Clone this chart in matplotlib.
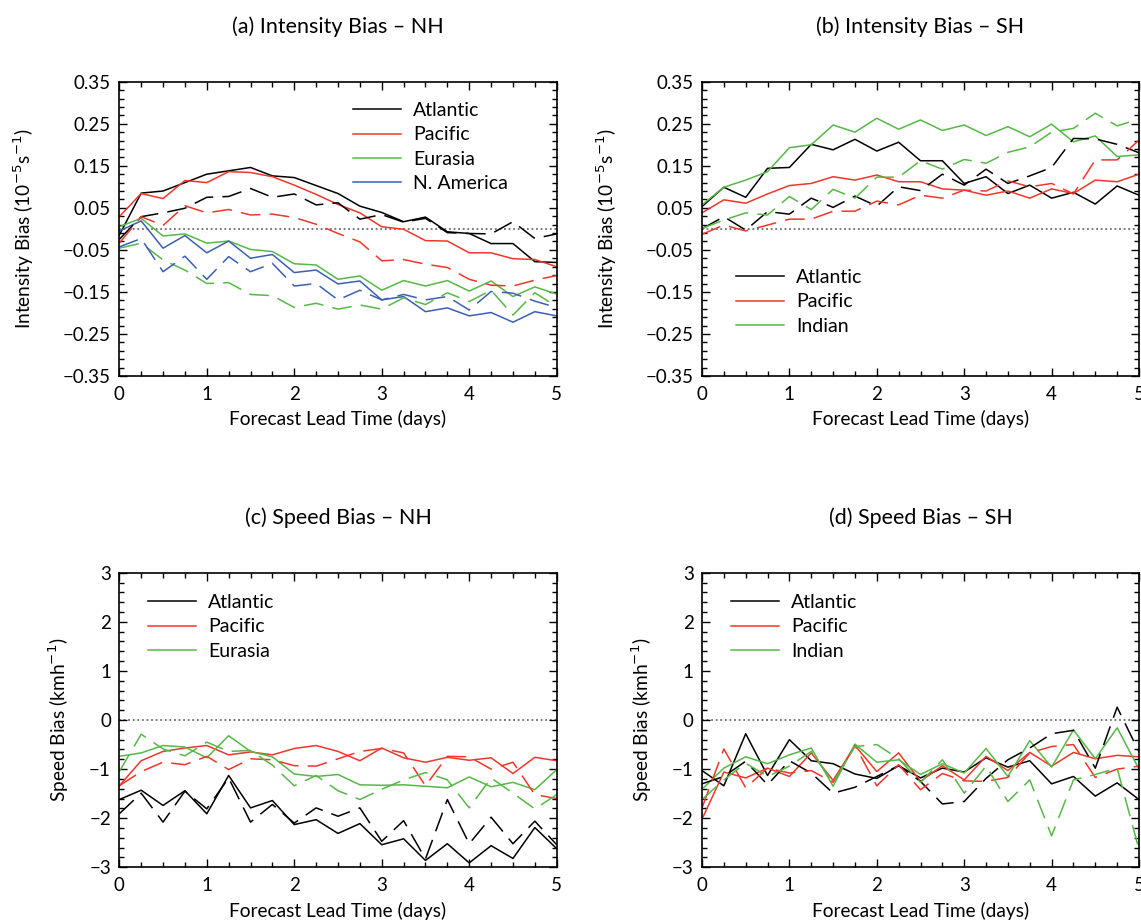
import numpy as np
import matplotlib
matplotlib.use("Agg")
import matplotlib.pyplot as plt
from matplotlib.ticker import FixedLocator, FuncFormatter

plt.rcParams['font.family'] = ['Lato', 'DejaVu Sans']
plt.rcParams['axes.unicode_minus'] = True

lead = [0, 0.25, 0.5, 0.75, 1, 1.25, 1.5, 1.75, 2, 2.25, 2.5, 2.75, 3, 3.25, 3.5, 3.75, 4, 4.25, 4.5, 4.75, 5]

# (a) Intensity bias NH  (solid / dashed)
a_atl = [-0.015, 0.085, 0.090, 0.110, 0.130, 0.138, 0.146, 0.126, 0.122, 0.103, 0.084, 0.054, 0.039, 0.017, 0.028, -0.007, -0.011, -0.035, -0.035, -0.078, -0.080]
a_atl_d = [-0.025, 0.029, 0.038, 0.049, 0.075, 0.077, 0.096, 0.075, 0.083, 0.057, 0.062, 0.023, 0.034, 0.016, 0.025, -0.009, -0.011, -0.012, 0.017, -0.023, -0.012]
a_pac = [0.029, 0.084, 0.072, 0.115, 0.110, 0.136, 0.134, 0.124, 0.104, 0.082, 0.058, 0.038, 0.005, -0.001, -0.028, -0.029, -0.057, -0.057, -0.071, -0.073, -0.090]
a_pac_d = [-0.034, 0.029, 0.008, 0.055, 0.038, 0.046, 0.033, 0.035, 0.027, 0.011, -0.011, -0.031, -0.076, -0.073, -0.084, -0.092, -0.120, -0.134, -0.136, -0.122, -0.111]
a_eur = [0.005, 0.025, -0.017, -0.012, -0.034, -0.029, -0.049, -0.054, -0.083, -0.086, -0.120, -0.112, -0.146, -0.123, -0.136, -0.123, -0.148, -0.124, -0.161, -0.138, -0.155]
a_eur_d = [-0.046, -0.034, -0.074, -0.098, -0.130, -0.128, -0.156, -0.159, -0.187, -0.177, -0.191, -0.181, -0.191, -0.164, -0.180, -0.152, -0.173, -0.146, -0.205, -0.152, -0.185]
a_nam = [-0.005, 0.019, -0.046, -0.016, -0.057, -0.029, -0.070, -0.061, -0.104, -0.098, -0.131, -0.124, -0.169, -0.161, -0.197, -0.188, -0.207, -0.199, -0.222, -0.197, -0.207]
a_nam_d = [-0.043, -0.023, -0.102, -0.065, -0.120, -0.066, -0.102, -0.082, -0.136, -0.130, -0.169, -0.146, -0.169, -0.156, -0.169, -0.161, -0.193, -0.149, -0.153, -0.172, -0.187]

# (b) Intensity bias SH
b_atl = [0.053, 0.099, 0.075, 0.144, 0.146, 0.201, 0.188, 0.213, 0.185, 0.206, 0.162, 0.162, 0.108, 0.124, 0.084, 0.104, 0.073, 0.087, 0.059, 0.102, 0.080]
b_atl_d = [0.000, 0.029, -0.003, 0.041, 0.035, 0.073, 0.051, 0.078, 0.054, 0.100, 0.091, 0.130, 0.104, 0.142, 0.108, 0.126, 0.146, 0.215, 0.214, 0.201, 0.181]
b_pac = [0.038, 0.069, 0.061, 0.083, 0.103, 0.108, 0.124, 0.116, 0.128, 0.112, 0.112, 0.095, 0.092, 0.080, 0.090, 0.073, 0.095, 0.084, 0.116, 0.112, 0.130]
b_pac_d = [-0.013, 0.009, -0.005, 0.009, 0.023, 0.023, 0.042, 0.042, 0.066, 0.057, 0.080, 0.073, 0.092, 0.090, 0.114, 0.100, 0.108, 0.083, 0.164, 0.164, 0.211]
b_ind = [0.057, 0.099, 0.116, 0.136, 0.193, 0.200, 0.247, 0.230, 0.263, 0.237, 0.259, 0.234, 0.247, 0.222, 0.243, 0.219, 0.249, 0.207, 0.221, 0.172, 0.176]
b_ind_d = [0.001, 0.021, 0.038, 0.033, 0.077, 0.046, 0.094, 0.073, 0.123, 0.123, 0.162, 0.142, 0.165, 0.156, 0.182, 0.195, 0.230, 0.239, 0.275, 0.245, 0.261]

# (c) Speed bias NH
c_atl = [-1.62, -1.43, -1.74, -1.44, -1.91, -1.13, -1.79, -1.64, -2.13, -2.03, -2.31, -2.11, -2.54, -2.42, -2.86, -2.52, -2.91, -2.56, -2.82, -2.19, -2.62]
c_atl_d = [-1.91, -1.49, -2.08, -1.45, -1.81, -1.18, -2.08, -1.72, -2.10, -1.79, -1.96, -1.79, -2.47, -2.05, -2.83, -1.62, -2.52, -1.98, -2.52, -2.06, -2.54]
c_pac = [-1.34, -0.83, -0.64, -0.57, -0.52, -0.71, -0.65, -0.71, -0.58, -0.52, -0.64, -0.83, -0.57, -0.77, -0.86, -0.76, -0.82, -0.77, -1.09, -0.76, -0.83]
c_pac_d = [-1.34, -1.05, -0.86, -0.91, -0.74, -1.01, -0.79, -0.81, -0.93, -0.94, -0.79, -0.64, -0.58, -0.67, -1.34, -0.74, -0.75, -1.00, -0.86, -1.52, -1.60]
c_eur = [-0.74, -0.67, -0.52, -0.55, -0.77, -0.32, -0.64, -0.75, -1.10, -1.15, -1.11, -1.32, -1.33, -1.32, -1.35, -1.38, -1.16, -1.36, -1.27, -1.42, -1.01]
c_eur_d = [-1.05, -0.29, -0.59, -0.73, -0.45, -0.64, -0.62, -0.92, -1.34, -1.13, -1.44, -1.62, -1.41, -1.22, -1.07, -1.22, -1.79, -1.18, -1.49, -1.81, -1.52]

# (d) Speed bias SH
d_atl = [-1.03, -1.34, -0.28, -1.13, -0.40, -0.83, -0.89, -1.10, -1.19, -0.93, -1.18, -0.98, -1.06, -0.77, -0.96, -0.83, -1.30, -1.15, -1.55, -1.28, -1.62]
d_atl_d = [-1.30, -1.15, -0.84, -1.32, -0.83, -1.08, -1.49, -1.37, -1.15, -0.93, -1.25, -1.71, -1.66, -1.19, -0.81, -0.57, -0.28, -0.21, -0.98, 0.26, -0.65]
d_pac = [-2.02, -1.06, -1.18, -0.98, -1.15, -0.67, -1.23, -0.52, -1.05, -0.67, -1.25, -0.93, -1.22, -0.74, -1.03, -0.66, -0.94, -0.66, -0.79, -0.72, -0.75]
d_pac_d = [-1.79, -0.59, -1.38, -0.98, -1.08, -1.03, -1.27, -0.52, -1.34, -0.91, -1.42, -1.09, -1.24, -1.25, -1.17, -0.67, -0.54, -0.50, -1.17, -1.00, -0.94]
d_ind = [-1.41, -0.98, -0.75, -0.89, -0.71, -0.57, -1.35, -0.49, -0.86, -0.81, -1.11, -0.89, -1.08, -0.58, -1.15, -0.42, -0.96, -0.20, -0.79, -0.16, -1.00]
d_ind_d = [-1.62, -1.22, -0.88, -1.15, -0.94, -0.64, -1.28, -0.54, -0.50, -0.79, -1.27, -0.81, -1.49, -0.94, -1.66, -1.22, -2.36, -1.22, -1.11, -0.98, -2.64]

titles = ["(a) Intensity Bias \u2013 NH", "(b) Intensity Bias \u2013 SH",
          "(c) Speed Bias \u2013 NH", "(d) Speed Bias \u2013 SH"]
int_label = "Intensity Bias (10$^{-5}$s$^{-1}$)"
spd_label = "Speed Bias (kmh$^{-1}$)"
x_label = "Forecast Lead Time (days)"

BLACK = "#000000"
RED = "#f2362a"
GREEN = "#56b847"
BLUE = "#3b5fb5"
DASH = (0, (13, 6))

fig = plt.figure(figsize=(11.41, 9.21), dpi=100)
W, H = 1141.0, 921.0

def make_ax(x0, x1, ytop, ybot):
    return fig.add_axes([x0 / W, 1 - ybot / H, (x1 - x0) / W, (ybot - ytop) / H])

axa = make_ax(119.3, 556.7, 81.7, 376.0)
axb = make_ax(702.0, 1139.0, 81.7, 376.0)
axc = make_ax(119.3, 556.7, 572.7, 867.3)
axd = make_ax(702.0, 1139.0, 572.7, 867.3)

TICK_FS = 13.5
LAB_FS = 13.8

def style(ax, intensity, title):
    ax.set_xlim(0, 5)
    ax.xaxis.set_major_locator(FixedLocator([0, 1, 2, 3, 4, 5]))
    ax.xaxis.set_minor_locator(FixedLocator(np.arange(0, 5.01, 0.25)))
    if intensity:
        ax.set_ylim(-0.35, 0.35)
        ax.yaxis.set_major_locator(FixedLocator(np.round(np.arange(-0.35, 0.351, 0.1), 2)))
        ax.yaxis.set_minor_locator(FixedLocator(np.round(np.arange(-0.35, 0.351, 0.02), 2)))
        ax.yaxis.set_major_formatter(FuncFormatter(lambda v, p: f"{v:.2f}".replace("-", "\u2212")))
        ax.set_ylabel(int_label, fontsize=LAB_FS)
        ax.yaxis.set_label_coords(-0.19, 0.5)
    else:
        ax.set_ylim(-3, 3)
        ax.yaxis.set_major_locator(FixedLocator([-3, -2, -1, 0, 1, 2, 3]))
        ax.yaxis.set_minor_locator(FixedLocator(np.round(np.arange(-3, 3.01, 0.2), 1)))
        ax.yaxis.set_major_formatter(FuncFormatter(lambda v, p: f"{v:.0f}".replace("-", "\u2212")))
        ax.set_ylabel(spd_label, fontsize=LAB_FS)
        ax.yaxis.set_label_coords(-0.11, 0.5)
    ax.tick_params(which='both', direction='in', top=True, right=True, labelsize=TICK_FS, width=1.0)
    ax.tick_params(which='major', length=6)
    ax.tick_params(which='minor', length=3.5)
    ax.tick_params(axis='x', pad=7)
    ax.tick_params(axis='y', pad=6)
    for s in ax.spines.values():
        s.set_linewidth(1.2)
    ax.axhline(0, color="#555555", lw=1.1, ls=(0, (1.2, 1.8)), zorder=1)
    ax.set_xlabel(x_label, fontsize=LAB_FS)
    ax.xaxis.set_label_coords(0.5, -0.117)
    ax.text(0.5, 1.188, title, transform=ax.transAxes, ha='center', va='center', fontsize=15.5)

LW = 1.1

# (a)
axa.plot(lead, a_atl, color=BLACK, lw=LW, label="Atlantic")
axa.plot(lead, a_pac, color=RED, lw=LW, label="Pacific")
axa.plot(lead, a_eur, color=GREEN, lw=LW, label="Eurasia")
axa.plot(lead, a_nam, color=BLUE, lw=LW, label="N. America")
axa.plot(lead, a_atl_d, color=BLACK, lw=LW, ls=DASH)
axa.plot(lead, a_pac_d, color=RED, lw=LW, ls=DASH)
axa.plot(lead, a_eur_d, color=GREEN, lw=LW, ls=DASH)
axa.plot(lead, a_nam_d, color=BLUE, lw=LW, ls=DASH)
style(axa, True, titles[0])

# (b)
axb.plot(lead, b_atl, color=BLACK, lw=LW, label="Atlantic")
axb.plot(lead, b_pac, color=RED, lw=LW, label="Pacific")
axb.plot(lead, b_ind, color=GREEN, lw=LW, label="Indian")
axb.plot(lead, b_atl_d, color=BLACK, lw=LW, ls=DASH)
axb.plot(lead, b_pac_d, color=RED, lw=LW, ls=DASH)
axb.plot(lead, b_ind_d, color=GREEN, lw=LW, ls=DASH)
style(axb, True, titles[1])

# (c)
axc.plot(lead, c_atl, color=BLACK, lw=LW, label="Atlantic")
axc.plot(lead, c_pac, color=RED, lw=LW, label="Pacific")
axc.plot(lead, c_eur, color=GREEN, lw=LW, label="Eurasia")
axc.plot(lead, c_atl_d, color=BLACK, lw=LW, ls=DASH)
axc.plot(lead, c_pac_d, color=RED, lw=LW, ls=DASH)
axc.plot(lead, c_eur_d, color=GREEN, lw=LW, ls=DASH)
style(axc, False, titles[2])

# (d)
axd.plot(lead, d_atl, color=BLACK, lw=LW, label="Atlantic")
axd.plot(lead, d_pac, color=RED, lw=LW, label="Pacific")
axd.plot(lead, d_ind, color=GREEN, lw=LW, label="Indian")
axd.plot(lead, d_atl_d, color=BLACK, lw=LW, ls=DASH)
axd.plot(lead, d_pac_d, color=RED, lw=LW, ls=DASH)
axd.plot(lead, d_ind_d, color=GREEN, lw=LW, ls=DASH)
style(axd, False, titles[3])

leg_kw = dict(frameon=False, fontsize=14, handlelength=2.47, handletextpad=0.62,
              labelspacing=0.37, borderpad=0, borderaxespad=0, loc='upper left')
axa.legend(bbox_to_anchor=(0.534, 0.93), **leg_kw)
axb.legend(bbox_to_anchor=(0.078, 0.363), **leg_kw)
axc.legend(bbox_to_anchor=(0.066, 0.927), **leg_kw)
axd.legend(bbox_to_anchor=(0.066, 0.927), **leg_kw)

fig.savefig("out.png", dpi=100, facecolor="white")
